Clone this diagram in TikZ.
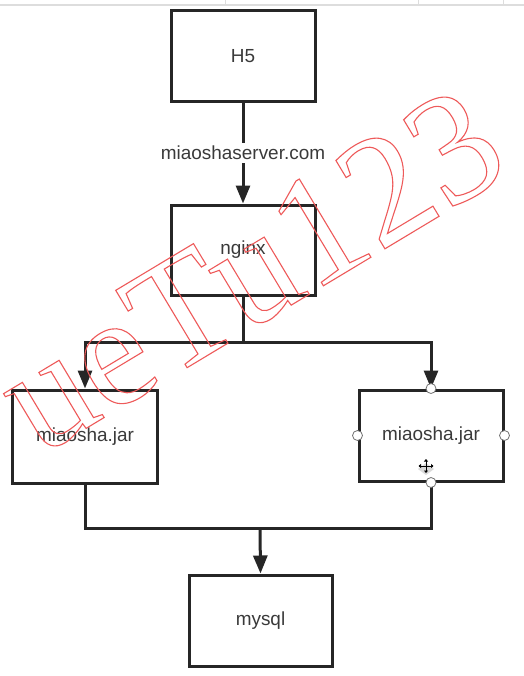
\documentclass[tikz,border=0pt]{standalone}
\usepackage{fontspec}
\setmainfont{Liberation Sans}
\newfontfamily\wmfont{Liberation Serif}
\usetikzlibrary{arrows.meta}
\definecolor{txt}{HTML}{3A3A3A}
\definecolor{wm}{HTML}{EE5A5A}
\definecolor{bar}{HTML}{DDDDDD}
\begin{document}
\begin{tikzpicture}[x=1bp,y=-1bp,
  box/.style={draw=black!85, line width=3bp, minimum width=144bp, minimum height=90bp,
    inner sep=0pt, text=txt, font=\fontsize{19}{22}\selectfont},
  conn/.style={draw=black!85, line width=3bp},
  arr/.style={conn, -{Triangle[width=14bp,length=18bp]}},
  lbl/.style={fill=white, text=txt, font=\fontsize{19}{22}\selectfont, inner xsep=2bp, inner ysep=3.5bp},
  handle/.style={circle, draw=black!55, fill=white, line width=0.8bp, minimum size=10bp, inner sep=0pt},
  wmark/.style={text=wm, font=\wmfont\fontsize{158}{158}\selectfont, inner sep=0pt},
]
\useasboundingbox (0,0) rectangle (524,676);
\fill[white] (0,0) rectangle (524,676);
% top toolbar edge
\draw[bar, line width=1.5bp] (0,5) -- (524,5);
\draw[bar, line width=1bp] (225,0) -- (225,5) (418,0) -- (418,5) (503,0) -- (503,5);

% nodes
\node[box] (h5)    at (243,56)    {H5};
\node[box] (nginx) at (243,250)   {nginx};
\node[box, minimum height=93bp] (jarL) at (85,436.5) {miaosha.jar};
\node[box, minimum height=91bp] (jarR) at (431,435.5) {miaosha.jar};
\node[box, minimum width=143bp, minimum height=91bp] (mysql) at (260.5,620.5) {mysql};

\coordinate (split) at (243,342);
\coordinate (join)  at (260,528);

% connectors
\draw[arr] (h5.south) -- node[lbl] {miaoshaserver.com} (nginx.north);
\draw[conn] (nginx.south) -- (split);
\draw[arr] (split) -| (jarL.north);
\draw[arr] (split) -| (jarR.north);
\draw[conn] (jarL.south) |- (join) -| (jarR.south);
\draw[arr] (join) -- (mysql.north);

% selection handles
\node[handle] (hn) at (jarR.north) {};
\node[handle] (hw) at (jarR.west) {};
\node[handle] (he) at (jarR.east) {};
\node[handle] (hs) at (jarR.south) {};

% move cursor
\fill[black!15] (418,469) -- (426,463) -- (434,469) -- (426,475) -- cycle;
\draw[black, line width=1bp, {Triangle[width=4bp,length=2.5bp]}-{Triangle[width=4bp,length=2.5bp]}] (418.5,466) -- (433.5,466);
\draw[black, line width=1bp, {Triangle[width=4bp,length=2.5bp]}-{Triangle[width=4bp,length=2.5bp]}] (426,459) -- (426,473);

% watermark
\node[wmark, rotate=31] (wm) at (250,270) {\special{pdf:literal direct 1 Tr 1.1 w}ueTu123\special{pdf:literal direct 0 Tr}};
\end{tikzpicture}
\end{document}
